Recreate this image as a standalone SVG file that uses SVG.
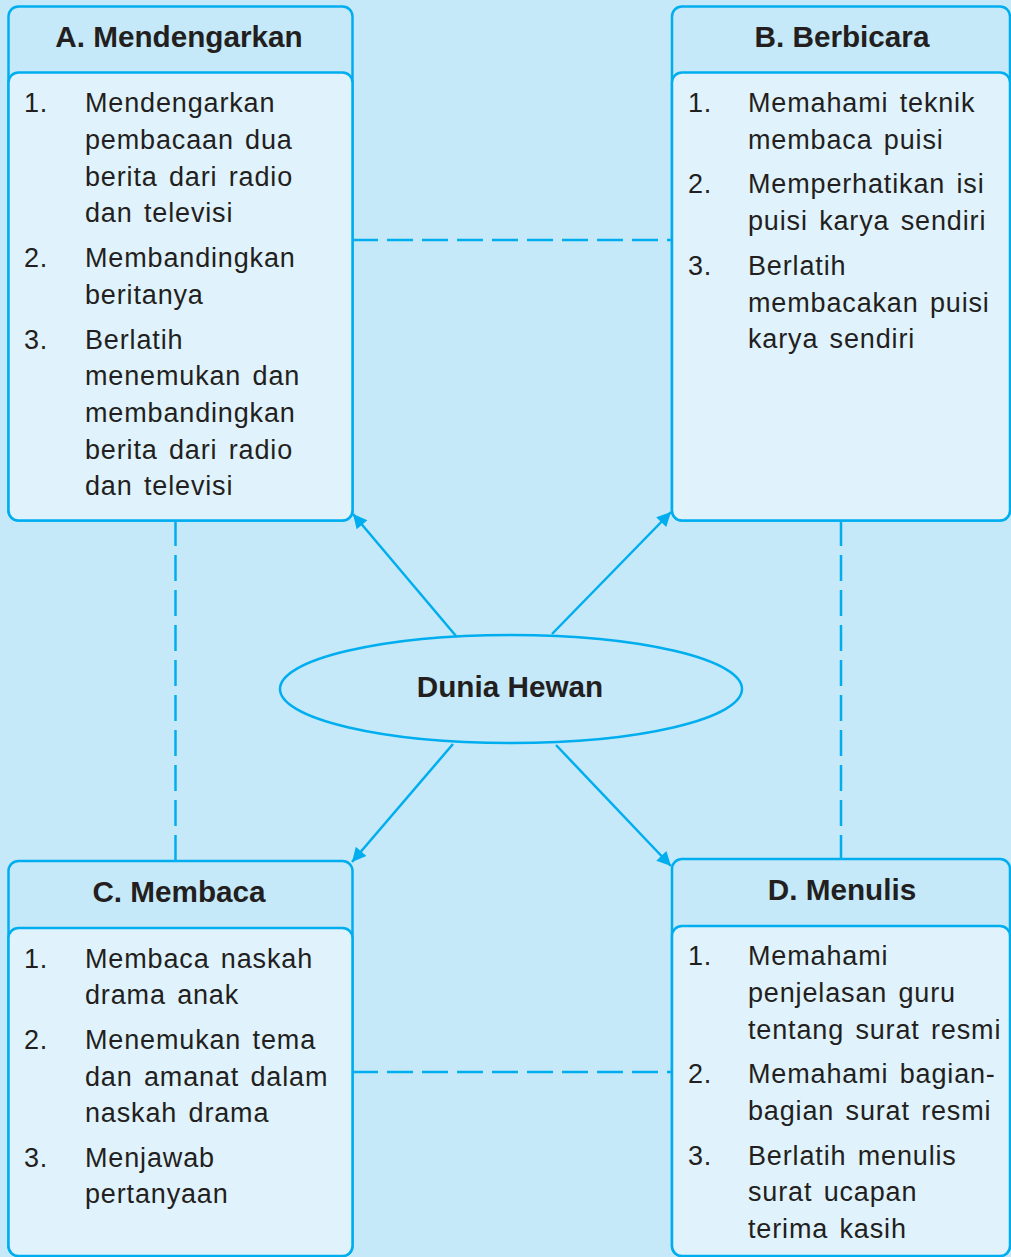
<svg xmlns="http://www.w3.org/2000/svg" width="1011" height="1257" viewBox="0 0 1011 1257">
<style>
.hd{fill:#c5e9f9;stroke:#00aeef;stroke-width:2.5}
.bd{fill:#e0f2fc;stroke:#00aeef;stroke-width:2.5}
.ht{font-family:"Liberation Sans",Arial,sans-serif;font-weight:bold;font-size:29.7px;fill:#231f20;text-anchor:middle}
.it{font-family:"Liberation Sans",Arial,sans-serif;font-size:27px;fill:#231f20;letter-spacing:0.85px;word-spacing:3px}
.dash{stroke:#00aeef;stroke-width:2.5;stroke-dasharray:26 9;fill:none}
.arr{stroke:#00aeef;stroke-width:2.5;fill:none;marker-end:url(#ah)}
</style>
<defs>
<marker id="ah" viewBox="0 0 10 10" refX="10" refY="5" markerWidth="16" markerHeight="14" markerUnits="userSpaceOnUse" orient="auto">
<path d="M0,0 L10,5 L0,10 Z" fill="#00aeef"/>
</marker>
</defs>
<rect x="0" y="0" width="1011" height="1257" fill="#c5e9f9"/>
<g id="connectors">
<line class="dash" x1="352" y1="240" x2="672" y2="240"/>
<line class="dash" x1="352" y1="1072" x2="672" y2="1072"/>
<line class="dash" x1="175.5" y1="520" x2="175.5" y2="861"/>
<line class="dash" x1="841" y1="520" x2="841" y2="859"/>
<line class="arr" x1="456" y1="636" x2="353" y2="514"/>
<line class="arr" x1="552" y1="634" x2="671" y2="512"/>
<line class="arr" x1="453" y1="744" x2="352" y2="862"/>
<line class="arr" x1="556" y1="745" x2="671" y2="866"/>
</g>
<g id="nodeA">
<rect class="hd" x="8.5" y="6.5" width="344" height="514" rx="10"/>
<rect class="bd" x="8.5" y="72.5" width="344" height="448" rx="10"/>
<text class="ht" x="179" y="47">A. Mendengarkan</text>
<text class="it"><tspan x="24" y="112">1.</tspan><tspan x="85" y="112">Mendengarkan</tspan><tspan x="85" y="149">pembacaan dua</tspan><tspan x="85" y="186">berita dari radio</tspan><tspan x="85" y="222">dan televisi</tspan><tspan x="24" y="267">2.</tspan><tspan x="85" y="267">Membandingkan</tspan><tspan x="85" y="304">beritanya</tspan><tspan x="24" y="349">3.</tspan><tspan x="85" y="349">Berlatih</tspan><tspan x="85" y="385">menemukan dan</tspan><tspan x="85" y="422">membandingkan</tspan><tspan x="85" y="459">berita dari radio</tspan><tspan x="85" y="495">dan televisi</tspan></text>
</g>
<g id="nodeB">
<rect class="hd" x="672" y="6.5" width="338" height="514" rx="10"/>
<rect class="bd" x="672" y="72.5" width="338" height="448" rx="10"/>
<text class="ht" x="842" y="47">B. Berbicara</text>
<text class="it"><tspan x="688" y="112">1.</tspan><tspan x="748" y="112">Memahami teknik</tspan><tspan x="748" y="149">membaca puisi</tspan><tspan x="688" y="193">2.</tspan><tspan x="748" y="193">Memperhatikan isi</tspan><tspan x="748" y="230">puisi karya sendiri</tspan><tspan x="688" y="275">3.</tspan><tspan x="748" y="275">Berlatih</tspan><tspan x="748" y="312">membacakan puisi</tspan><tspan x="748" y="348">karya sendiri</tspan></text>
</g>
<g id="nodeCenter">
<ellipse cx="511" cy="689" rx="231" ry="54" fill="#c5e9f9" stroke="#00aeef" stroke-width="2.5"/>
<text class="ht" x="510" y="697">Dunia Hewan</text>
</g>
<g id="nodeC">
<rect class="hd" x="8.5" y="861" width="344" height="395" rx="10"/>
<rect class="bd" x="8.5" y="928" width="344" height="328" rx="10"/>
<text class="ht" x="179" y="902">C. Membaca</text>
<text class="it"><tspan x="24" y="968">1.</tspan><tspan x="85" y="968">Membaca naskah</tspan><tspan x="85" y="1004">drama anak</tspan><tspan x="24" y="1049">2.</tspan><tspan x="85" y="1049">Menemukan tema</tspan><tspan x="85" y="1086">dan amanat dalam</tspan><tspan x="85" y="1122">naskah drama</tspan><tspan x="24" y="1167">3.</tspan><tspan x="85" y="1167">Menjawab</tspan><tspan x="85" y="1203">pertanyaan</tspan></text>
</g>
<g id="nodeD">
<rect class="hd" x="672" y="859" width="338" height="397" rx="10"/>
<rect class="bd" x="672" y="926" width="338" height="330" rx="10"/>
<text class="ht" x="842" y="900">D. Menulis</text>
<text class="it"><tspan x="688" y="965">1.</tspan><tspan x="748" y="965">Memahami</tspan><tspan x="748" y="1002">penjelasan guru</tspan><tspan x="748" y="1039">tentang surat resmi</tspan><tspan x="688" y="1083">2.</tspan><tspan x="748" y="1083">Memahami bagian-</tspan><tspan x="748" y="1120">bagian surat resmi</tspan><tspan x="688" y="1165">3.</tspan><tspan x="748" y="1165">Berlatih menulis</tspan><tspan x="748" y="1201">surat ucapan</tspan><tspan x="748" y="1238">terima kasih</tspan></text>
</g>
</svg>
